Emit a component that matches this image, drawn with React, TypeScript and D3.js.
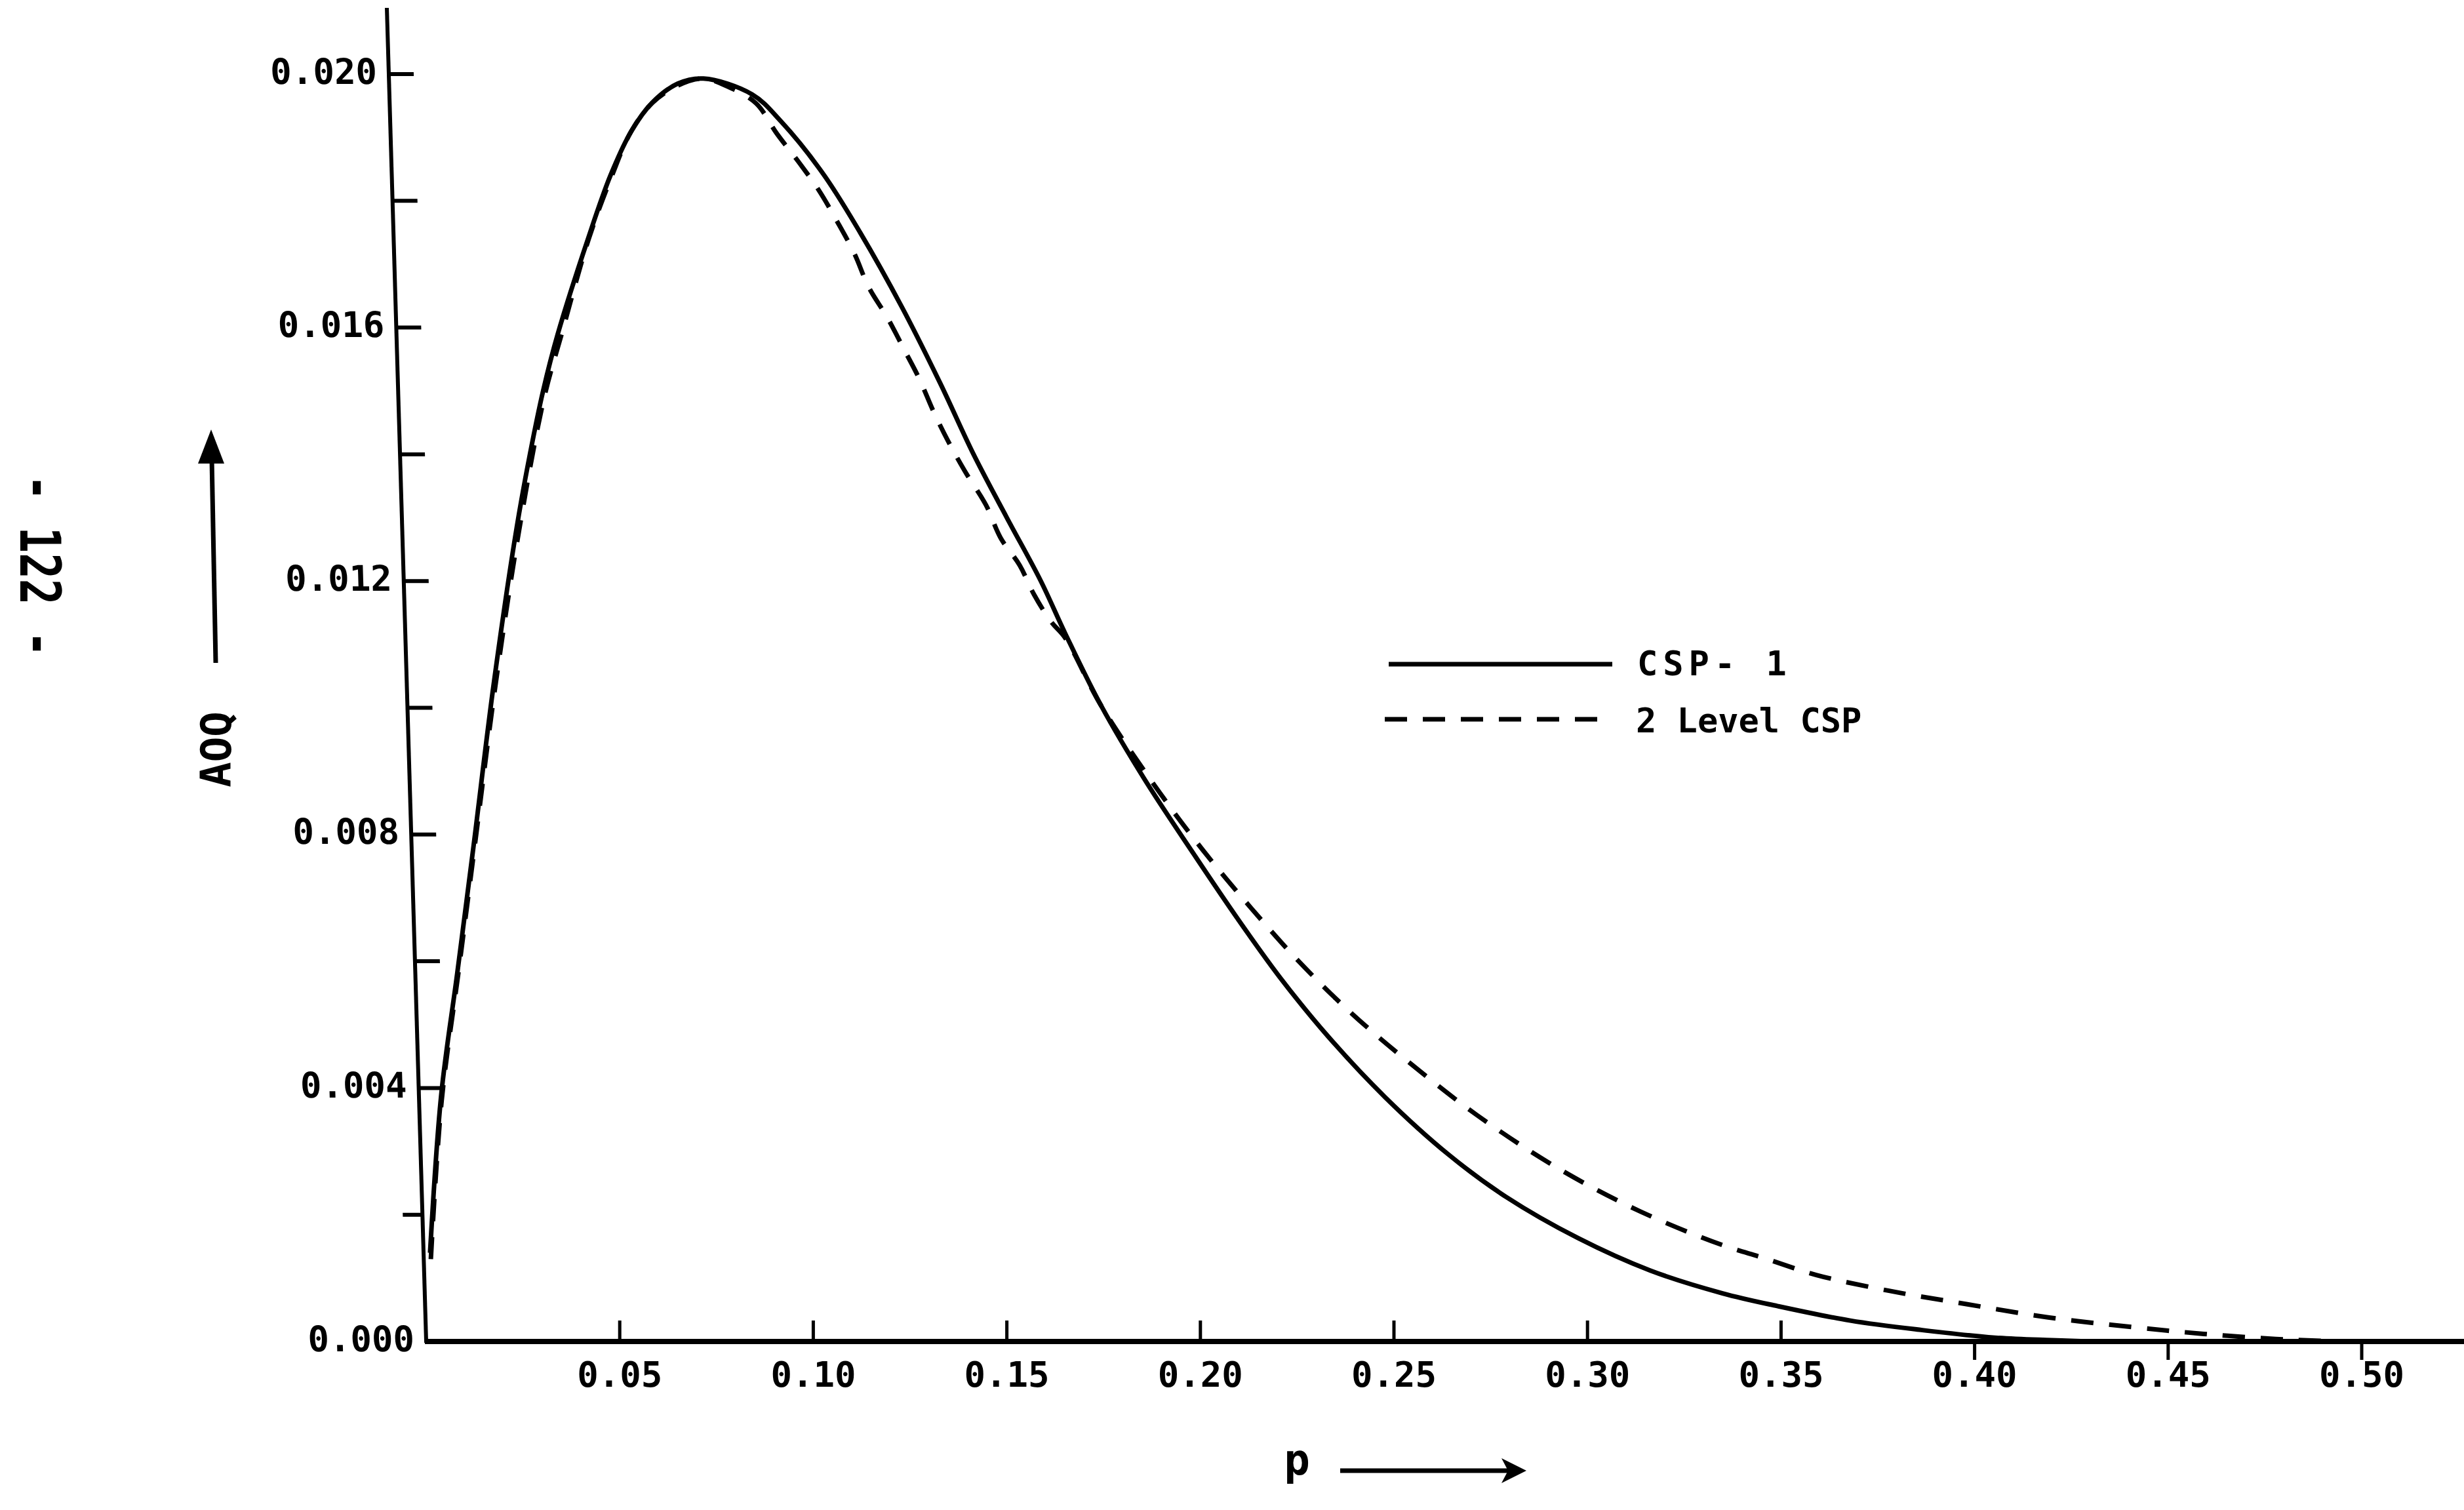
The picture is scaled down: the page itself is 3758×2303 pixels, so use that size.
import React from "react";
import * as d3 from "d3";

// ---- data ----
const pSolid = [0.001, 0.0039, 0.008, 0.0122, 0.0175, 0.0234, 0.0268, 0.0302, 0.034, 0.0418, 0.0476, 0.053, 0.0584, 0.065, 0.0716, 0.0842, 0.0917, 0.1025, 0.1121, 0.123, 0.1328, 0.1414, 0.15, 0.1587, 0.1651, 0.1743, 0.1858, 0.1982, 0.2093, 0.2205, 0.2329, 0.2478, 0.2641, 0.279, 0.2976, 0.3162, 0.3349, 0.349, 0.3679, 0.3865, 0.4053, 0.42, 0.43];
const aoqSolid = [0.0014, 0.0039, 0.0058, 0.0078, 0.0104, 0.01285, 0.014, 0.015, 0.0159, 0.0174, 0.0184, 0.0191, 0.01955, 0.01985, 0.01993, 0.01968, 0.01925, 0.01843, 0.0175, 0.01631, 0.01512, 0.014, 0.013, 0.01201, 0.01117, 0.01004, 0.00885, 0.0077, 0.0067, 0.00575, 0.00482, 0.00385, 0.00295, 0.00228, 0.00163, 0.00112, 0.00076, 0.00056, 0.00033, 0.00018, 0.00006, 0.00002, 0];

const pDashed = [0.0012, 0.004, 0.0085, 0.0125, 0.018, 0.024, 0.0305, 0.035, 0.042, 0.048, 0.053, 0.0585, 0.065, 0.0715, 0.078, 0.0852, 0.0906, 0.0965, 0.1014, 0.1062, 0.1106, 0.1143, 0.1192, 0.1235, 0.1274, 0.1311, 0.1349, 0.1392, 0.1446, 0.1484, 0.1533, 0.157, 0.1614, 0.1651, 0.1743, 0.1895, 0.2007, 0.2131, 0.2254, 0.2392, 0.254, 0.2715, 0.2925, 0.3137, 0.3349, 0.3454, 0.3591, 0.3779, 0.3979, 0.419, 0.4404, 0.4592, 0.4778, 0.49, 0.5];
const aoqDashed = [0.0013, 0.0038, 0.0059, 0.0078, 0.0104, 0.0128, 0.0149, 0.0159, 0.0174, 0.0184, 0.0191, 0.01955, 0.01982, 0.01993, 0.0198, 0.01954, 0.01906, 0.01859, 0.01817, 0.01767, 0.01717, 0.01664, 0.01615, 0.01565, 0.01519, 0.01467, 0.0142, 0.01373, 0.0132, 0.01268, 0.01225, 0.01179, 0.01136, 0.0111, 0.01004, 0.00866, 0.00775, 0.00684, 0.006, 0.00517, 0.0044, 0.00357, 0.00273, 0.00205, 0.00152, 0.00132, 0.00105, 0.0008, 0.00059, 0.00038, 0.00023, 0.00012, 0.00004, 0.00001, 0];

const xTicks = [0.05, 0.1, 0.15, 0.2, 0.25, 0.3, 0.35, 0.4, 0.45, 0.5];
const xTickLabels = ["0.05", "0.10", "0.15", "0.20", "0.25", "0.30", "0.35", "0.40", "0.45", "0.50"];
const yMajorTicks = [0, 0.004, 0.008, 0.012, 0.016, 0.02];
const yTickLabels = ["0.000", "0.004", "0.008", "0.012", "0.016", "0.020"];
const yMinorTicks = [0.002, 0.006, 0.01, 0.014, 0.018];
const seriesNames = ["CSP- 1", "2 Level CSP"];
const xTitle = "p";
const yTitle = "AOQ";
const pageNote = "- 122 -";

const W = 3758;
const H = 2303;
const FONT = "'DejaVu Sans Mono', 'Liberation Mono', monospace";

export default function App() {
  const x = d3.scaleLinear().domain([0, 0.5]).range([650, 3602]);
  const y = d3.scaleLinear().domain([0, 0.02]).range([2046, 113]);
  const x0 = x(0);
  const yb = y(0);
  const skew = (Math.atan(0.0295) * 180) / Math.PI;

  const line = d3
    .line<[number, number]>()
    .x((d) => x(d[0]))
    .y((d) => y(d[1]))
    .curve(d3.curveCatmullRom.alpha(0.5));

  const solidPts = pSolid.map((p, i) => [p, aoqSolid[i]] as [number, number]);
  const dashedPts = pDashed.map((p, i) => [p, aoqDashed[i]] as [number, number]);

  return (
    <svg
      width={W}
      height={H}
      viewBox={`0 0 ${W} ${H}`}
      style={{ position: "absolute", left: 0, top: 0, display: "block", background: "#fff" }}
    >
      <rect x={0} y={0} width={W} height={H} fill="#fff" />

      {/* slanted hand-drawn y axis */}
      <g transform={`translate(${x0},${yb}) skewX(${skew}) translate(${-x0},${-yb})`}>
        <line x1={x0} y1={12} x2={x0} y2={yb + 2} stroke="#000" strokeWidth={6} />
        {yMajorTicks.map((v, i) => (
          <g key={"ym" + i}>
            {v > 0 && (
              <line x1={x0} y1={y(v)} x2={x0 + 38} y2={y(v)} stroke="#000" strokeWidth={6} />
            )}
            <text
              x={x0 - 18}
              y={y(v)}
              textAnchor="end"
              dominantBaseline="middle"
              fontFamily={FONT}
              fontWeight="bold"
              fontSize={54}
              fill="#000"
            >
              {yTickLabels[i]}
            </text>
          </g>
        ))}
        {yMinorTicks.map((v, i) => (
          <line
            key={"yn" + i}
            x1={x0}
            y1={y(v)}
            x2={v < 0.004 ? x0 - 30 : x0 + 38}
            y2={y(v)}
            stroke="#000"
            strokeWidth={6}
          />
        ))}
      </g>

      {/* x axis */}
      <line x1={x0 - 2} y1={yb} x2={W} y2={yb} stroke="#000" strokeWidth={8} />
      {xTicks.map((v, i) => (
        <g key={"xt" + i}>
          <line
            x1={x(v)}
            y1={yb}
            x2={x(v)}
            y2={v >= 0.4 ? yb + 28 : yb - 32}
            stroke="#000"
            strokeWidth={5}
          />
          <text
            x={x(v)}
            y={yb + 54}
            textAnchor="middle"
            dominantBaseline="middle"
            fontFamily={FONT}
            fontWeight="bold"
            fontSize={54}
            fill="#000"
          >
            {xTickLabels[i]}
          </text>
        </g>
      ))}

      {/* curves */}
      <path d={line(solidPts) || ""} fill="none" stroke="#000" strokeWidth={7} strokeLinejoin="round" />
      <path
        d={line(dashedPts) || ""}
        fill="none"
        stroke="#000"
        strokeWidth={7}
        strokeDasharray="34 24"
      />

      {/* legend */}
      <line x1={2118} y1={1013} x2={2459} y2={1013} stroke="#000" strokeWidth={7} />
      <text x={2497} y={1030} fontFamily={FONT} fontWeight="bold" fontSize={52} letterSpacing={8} fill="#000">
        {seriesNames[0]}
      </text>
      <line x1={2112} y1={1097} x2={2456} y2={1097} stroke="#000" strokeWidth={7} strokeDasharray="34 24" />
      <text x={2495} y={1117} fontFamily={FONT} fontWeight="bold" fontSize={52} fill="#000">
        {seriesNames[1]}
      </text>

      {/* y title with arrow */}
      <text
        transform="translate(334,1143) rotate(-90)"
        textAnchor="middle"
        dominantBaseline="middle"
        fontFamily={FONT}
        fontWeight="bold"
        fontSize={64}
        fill="#000"
      >
        {yTitle}
      </text>
      <line x1={329} y1={1011} x2={323} y2={700} stroke="#000" strokeWidth={7} />
      <path d="M322,655 L302,707 L342,707 Z" fill="#000" />

      {/* x title with arrow */}
      <text x={1978} y={2249} textAnchor="middle" fontFamily={FONT} fontWeight="bold" fontSize={66} fill="#000">
        {xTitle}
      </text>
      <line x1={2044} y1={2243} x2={2300} y2={2243} stroke="#000" strokeWidth={7} />
      <path d="M2328,2243 L2290,2224 L2300,2243 L2290,2262 Z" fill="#000" />

      {/* page number */}
      <text
        transform="translate(55,863) rotate(90) scale(1,1.3)"
        textAnchor="middle"
        dominantBaseline="middle"
        fontFamily={FONT}
        fontWeight="bold"
        fontSize={66}
        fill="#000"
      >
        {pageNote}
      </text>
    </svg>
  );
}
